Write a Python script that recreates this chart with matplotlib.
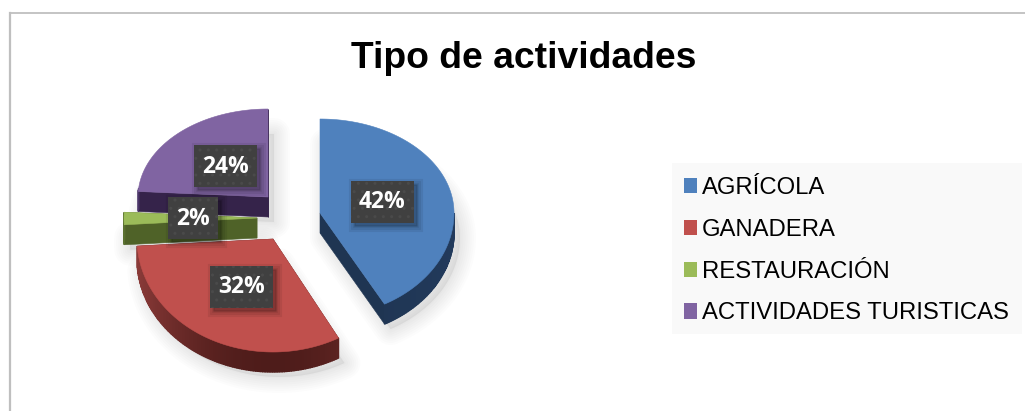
import numpy as np
import matplotlib
matplotlib.use("Agg")
import matplotlib.pyplot as plt
from matplotlib.patches import Polygon, Rectangle, Patch

title = "Tipo de actividades"
categories = ["AGRÍCOLA", "GANADERA", "RESTAURACIÓN", "ACTIVIDADES TURISTICAS"]
shares = [42, 32, 2, 24]
colors = ["#4f81bd", "#c0504d", "#9bbb59", "#8064a2"]
wall_colors = ["#1f3552", "#4e1c1a", "#4f6228", "#35234a"]
arc_light = ["#223a5c", "#8a3a38", "#5a7030", "#4a3468"]
apexes = [(320, 213), (273, 239), (257, 218), (268, 197)]
radii_x = [134, 136, 133, 130]
radii_up = [94, 92, 92, 88]
radii_down = [104, 113, 108, 108]

DEPTH = 20
W, H = 1025, 411

fig = plt.figure(figsize=(W / 100, H / 100), dpi=100, facecolor="white")
ax = fig.add_axes([0, 0, 1, 1])
ax.set_xlim(0, W)
ax.set_ylim(H, 0)
ax.axis("off")

# chart frame
ax.plot([10, W], [13.5, 13.5], color="#bfbfbf", lw=1.3)
ax.plot([10, 10], [13, H], color="#bfbfbf", lw=1.6)


def project(i, deg):
    a = np.radians(deg)
    ry = np.where(np.cos(a) >= 0, radii_up[i], radii_down[i])
    return apexes[i][0] + radii_x[i] * np.sin(a), apexes[i][1] - ry * np.cos(a)


def mix(c1, c2, t):
    a, b = np.array(matplotlib.colors.to_rgb(c1)), np.array(matplotlib.colors.to_rgb(c2))
    return tuple(a + (b - a) * t)


fr = np.cumsum([0] + shares) / sum(shares) * 360
slices = []
for i in range(len(shares)):
    ang = np.linspace(fr[i], fr[i + 1], max(3, int(fr[i + 1] - fr[i]) + 1))
    x, y = project(i, ang)
    slices.append((i, ang, x, y))

# soft shadow
for i, ang, x, y in slices:
    xs = np.r_[apexes[i][0], x] + 6
    ys = np.r_[apexes[i][1], y] + DEPTH + 5
    for lw in np.arange(2, 26, 3):
        ax.add_patch(Polygon(np.c_[xs, ys], closed=True, fc="none", ec="black",
                             lw=lw, alpha=0.012, joinstyle="round", zorder=1))
    ax.add_patch(Polygon(np.c_[xs, ys], closed=True, fc="black", ec="none", alpha=0.06, zorder=1))

order = [3, 2, 0, 1]
z = 2
for i in order:
    _, ang, x, y = slices[i]
    ax0, ay0 = apexes[i]
    # walls: radial edges
    for ex, ey in ((x[0], y[0]), (x[-1], y[-1])):
        ax.add_patch(Polygon([(ax0, ay0), (ex, ey), (ex, ey + DEPTH), (ax0, ay0 + DEPTH)],
                             fc=wall_colors[i], ec=wall_colors[i], lw=0.4, zorder=z))
    # outer arc wall
    for k in range(len(ang) - 1):
        if 90 <= ang[k] <= 275:
            t = abs(np.sin(np.radians(ang[k])))
            col = mix(wall_colors[i], arc_light[i], t ** 2)
            ax.add_patch(Polygon([(x[k], y[k]), (x[k + 1], y[k + 1]),
                                  (x[k + 1], y[k + 1] + DEPTH), (x[k], y[k] + DEPTH)],
                                 fc=col, ec=col, lw=1.0, zorder=z))
    # top face
    ax.add_patch(Polygon(np.c_[np.r_[ax0, x], np.r_[ay0, y]], closed=True,
                         fc=colors[i], ec=colors[i], lw=0.4, zorder=z + 0.5))
    z += 1

# value labels
for i, ang, x, y in slices:
    mid = (fr[i] + fr[i + 1]) / 2
    a = np.radians(mid)
    ry = radii_up[i] if np.cos(a) >= 0 else radii_down[i]
    cx = apexes[i][0] + 0.48 * radii_x[i] * np.sin(a)
    cy = apexes[i][1] - 0.48 * ry * np.cos(a)
    txt = f"{shares[i]}%"
    bw = 50 if shares[i] < 10 else 63
    bh = 42
    for lw in (8, 5, 2):
        ax.add_patch(Rectangle((cx - bw / 2 + 3, cy - bh / 2 + 3), bw, bh, fc="black", ec="black",
                               lw=lw, alpha=0.07, zorder=20))
    ax.add_patch(Rectangle((cx - bw / 2, cy - bh / 2), bw, bh, fc="#404040", ec="#4a4a4a",
                           lw=0, hatch="..", zorder=21))
    ax.text(cx, cy + 0.5, txt, color="white", fontsize=16.5, fontweight="bold",
            family="Open Sans", ha="center", va="center", zorder=22)

ax.text(524, 58, title, fontsize=26.8, fontweight="bold", family="Liberation Sans",
        ha="center", va="center", color="black")

# legend
ax.add_patch(Rectangle((672, 163), 350, 171, fc="#f9f9f9", ec="none", zorder=1))
handles = [Patch(fc=c, ec="none", label=l) for c, l in zip(colors, categories)]
ax.legend(handles=handles, loc="upper left", bbox_to_anchor=(684 / W, 1 - 177 / H),
          frameon=False, prop={"family": "Liberation Sans", "size": 17.2},
          handlelength=0.56, handleheight=0.6, handletextpad=0.2,
          labelspacing=0.83, borderpad=0, borderaxespad=0)

fig.savefig("out.png", dpi=100, facecolor="white")
